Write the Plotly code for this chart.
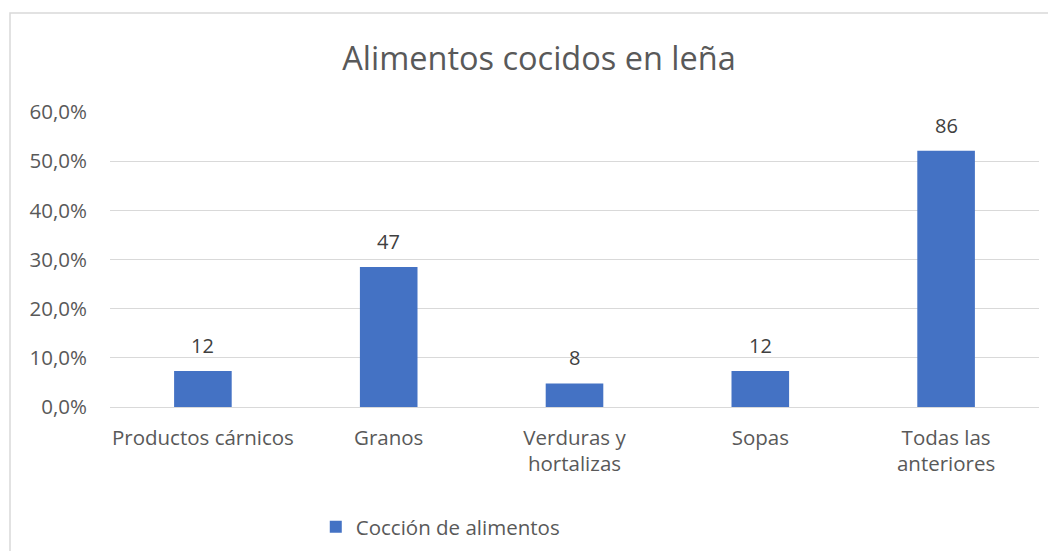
import plotly.graph_objects as go

categories = ["Productos cárnicos", "Granos", "Verduras y<br>hortalizas", "Sopas", "Todas las<br>anteriores"]
percentages = [7.3, 28.5, 4.8, 7.3, 52.1]
counts = [12, 47, 8, 12, 86]
series_name = "Cocción de alimentos"
title_text = "Alimentos cocidos en leña"
y_ticks = [0, 10, 20, 30, 40, 50, 60]
y_tick_labels = ["0,0%", "10,0%", "20,0%", "30,0%", "40,0%", "50,0%", "60,0%"]

FONT = "Open Sans"
W, H = 1048, 543
L, T, PW, PH = 102, 104, 929, 295

fig = go.Figure()
fig.add_trace(go.Bar(
    x=categories, y=percentages, name=series_name,
    marker=dict(color="#4472C4", line=dict(width=0)),
    width=0.31, showlegend=True,
))

for c, p, n in zip(categories, percentages, counts):
    fig.add_annotation(x=c, y=p, text=str(n), showarrow=False,
                       yanchor="bottom", yshift=10,
                       font=dict(family=FONT, size=20, color="#404040"))

# outer chart border
fig.add_shape(type="rect", xref="paper", yref="paper",
              x0=(2 - L) / PW, x1=1.1, y0=-1.5, y1=(T + PH - 5) / PH,
              line=dict(color="#d9d9d9", width=1.5), layer="below")

fig.update_layout(
    width=W, height=H,
    margin=dict(l=L, r=W - L - PW, t=T, b=H - T - PH, autoexpand=False),
    paper_bgcolor="white", plot_bgcolor="white",
    title=dict(text=title_text, x=0.4618, xanchor="center", y=(H - 51) / H, yanchor="middle",
               xref="paper",
               font=dict(family=FONT, size=32.5, color="#595959")),
    font=dict(family=FONT, color="#595959"),
    showlegend=True,
    legend=dict(orientation="h", x=0.2215, xanchor="left", y=-(527 - 8 - T - PH) / PH, yanchor="middle",
                font=dict(family=FONT, size=20.5, color="#595959"),
                itemsizing="constant", bgcolor="rgba(0,0,0,0)"),
    xaxis=dict(showline=False, ticks="", ticklabelstandoff=16, automargin=False,
               tickfont=dict(family=FONT, size=20.5, color="#595959"),
               showgrid=False),
    yaxis=dict(range=[0, 60], tickvals=y_ticks, ticktext=y_tick_labels, automargin=False,
               showgrid=True, gridcolor="#d9d9d9", gridwidth=1,
               zeroline=True, zerolinecolor="#d9d9d9", zerolinewidth=1,
               showline=False, ticks="", ticklabelstandoff=22,
               tickfont=dict(family=FONT, size=20.5, color="#595959")),
)

fig.write_html("out.html")
